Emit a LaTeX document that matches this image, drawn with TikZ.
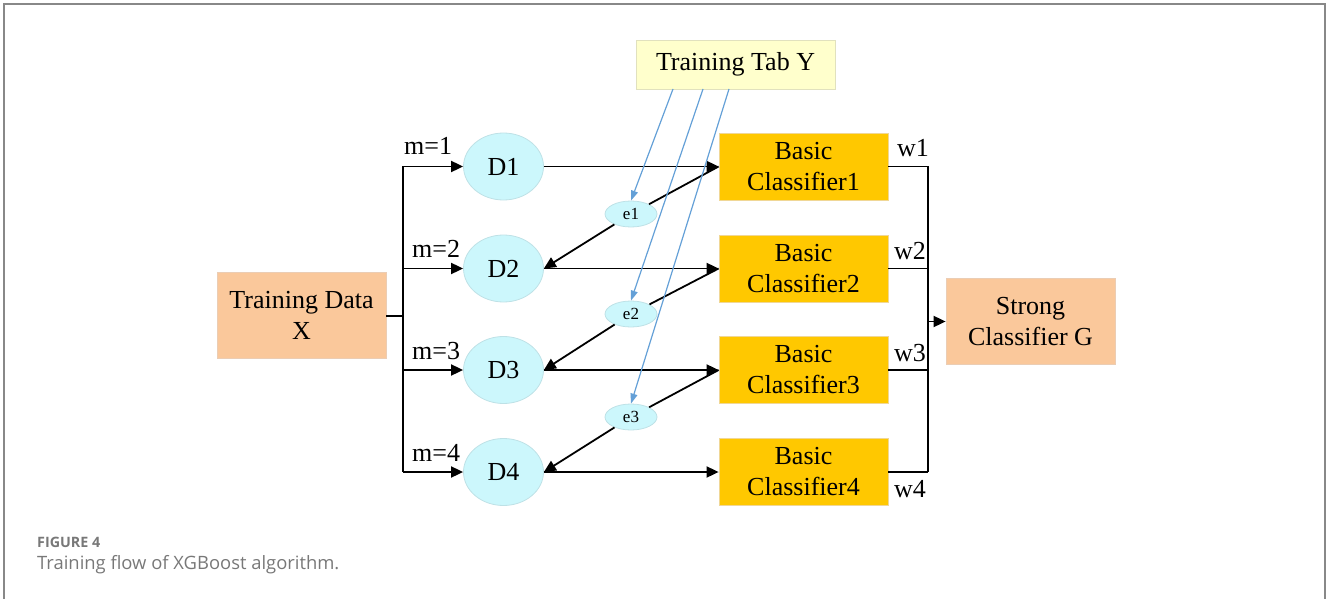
\documentclass[tikz,border=0pt]{standalone}
\usepackage{fontspec}
\setmainfont{Liberation Serif}
\newfontfamily\capfont{Open Sans}
\usetikzlibrary{arrows.meta,shapes.geometric}
\definecolor{peach}{RGB}{250,200,155}
\definecolor{peachline}{RGB}{235,205,180}
\definecolor{gold}{RGB}{255,200,0}
\definecolor{goldline}{RGB}{240,215,150}
\definecolor{cyanfill}{RGB}{204,247,252}
\definecolor{cyanline}{RGB}{190,225,230}
\definecolor{tabfill}{RGB}{255,255,204}
\definecolor{tabline}{RGB}{225,225,190}
\definecolor{blueline}{RGB}{100,160,215}
\definecolor{frame}{RGB}{136,136,136}
\definecolor{capgray}{RGB}{120,120,120}
\tikzset{
  bigtext/.style={font=\fontsize{26}{31}\selectfont},
  peachbox/.style={rectangle, fill=peach, draw=peachline, line width=0.8pt, minimum width=169pt, minimum height=86pt, align=center, bigtext, inner sep=0pt},
  classbox/.style={rectangle, fill=gold, draw=goldline, line width=0.8pt, minimum width=169pt, minimum height=67pt, align=center, bigtext, inner sep=0pt},
  dnode/.style={ellipse, fill=cyanfill, draw=cyanline, line width=0.8pt, minimum width=80pt, minimum height=67pt, inner sep=0pt, bigtext},
  enode/.style={ellipse, fill=cyanfill, draw=cyanline, line width=0.8pt, minimum width=52pt, minimum height=26pt, inner sep=0pt, font=\fontsize{17}{20}\selectfont},
  tabbox/.style={rectangle, fill=tabfill, draw=tabline, line width=0.8pt, minimum width=199pt, minimum height=49pt, bigtext, inner sep=0pt},
  conn/.style={line width=1.8pt, black},
  arr/.style={conn, -{Triangle[length=12pt,width=11pt]}},
  barr/.style={line width=1.2pt, blueline, -{Triangle[length=10pt,width=7pt]}},
  lbl/.style={bigtext, inner sep=0pt, anchor=base west},
}
\begin{document}
\begin{tikzpicture}[x=1pt,y=-1pt]
\useasboundingbox (0,0) rectangle (1328,599);
% frame
\draw[frame, line width=1.5pt] (4,599) -- (4,4) -- (1325,4) -- (1325,599);

% nodes
\node[peachbox] (X) at (301.5,315.5) {Training Data\\X};
\node[tabbox] (Y) at (735.5,64.5) {Training Tab Y};
\node[dnode] (D1) at (503.5,166.5) {D1};
\node[dnode] (D2) at (503.5,268.5) {D2};
\node[dnode] (D3) at (503.5,370) {D3};
\node[dnode] (D4) at (503.5,472) {D4};
\node[classbox] (C1) at (803.5,166.5) {Basic\\Classifier1};
\node[classbox] (C2) at (803.5,268.5) {Basic\\Classifier2};
\node[classbox] (C3) at (803.5,370) {Basic\\Classifier3};
\node[classbox] (C4) at (803.5,472) {Basic\\Classifier4};
\node[enode] (e1) at (631,214) {e1};
\node[enode] (e2) at (631,314) {e2};
\node[enode] (e3) at (631,417) {e3};
\node[peachbox] (G) at (1030.5,321.5) {Strong\\Classifier G};

% left trunk
\coordinate (tX) at (403,316);
\coordinate (b1) at (403,166.5);
\coordinate (b2) at (403,268.5);
\coordinate (b3) at (403,370);
\coordinate (b4) at (403,472);
\draw[conn] (X.east |- tX) -- (tX);
\draw[conn] (b1) -- (b4);
\draw[arr] (b1) -- (D1);
\draw[arr] (b2) -- (D2);
\draw[arr] (b3) -- (D3);
\draw[arr] (b4) -- (D4);

% D -> classifiers
\draw[arr] (D1) -- (C1);
\draw[arr] (D2) -- (C2);
\draw[arr] (D3) -- (C3);
\draw[arr] (D4) -- (C4);

% feedback through e nodes
\draw[conn] (C1.west) -- (e1);
\draw[arr] (e1) -- (D2.east);
\draw[conn] (C2.west) -- (e2);
\draw[arr] (e2) -- (D3.east);
\draw[conn] (C3.west) -- (e3);
\draw[arr] (e3) -- (D4.east);

% blue lines from Training Tab Y
\coordinate (y1) at (673,89);
\coordinate (y2) at (703,89);
\coordinate (y3) at (729,89);
\draw[barr] (y1) -- (e1.north);
\draw[barr] (y2) -- (e2.north);
\draw[barr] (y3) -- (e3.north);

% right collector
\coordinate (r1) at (928,166.5);
\coordinate (r2) at (928,268.5);
\coordinate (r3) at (928,370);
\coordinate (r4) at (928,472);
\coordinate (rG) at (928,321.5);
\draw[conn] (C1.east) -- (r1);
\draw[conn] (C2.east) -- (r2);
\draw[conn] (C3.east) -- (r3);
\draw[conn] (C4.east) -- (r4);
\draw[conn] (r1) -- (r4);
\draw[arr] (rG) -- (G);

% labels
\node[lbl] (m1) at (404,155) {m=1};
\node[lbl] (m2) at (412,257) {m=2};
\node[lbl] (m3) at (412,359) {m=3};
\node[lbl] (m4) at (412,461) {m=4};
\node[lbl] (w1) at (897,157) {w1};
\node[lbl] (w2) at (894,259) {w2};
\node[lbl] (w3) at (894,361) {w3};
\node[lbl] (w4) at (894,497) {w4};

% caption
\node[anchor=base west, inner sep=0pt, text=capgray, font=\capfont\fontsize{14.3}{18}\selectfont\bfseries] (cap1) at (37,547) {FIGURE 4};
\node[anchor=base west, inner sep=0pt, text=capgray, font=\capfont\fontsize{18.4}{22}\selectfont] (cap2) at (37,569) {Training flow of XGBoost algorithm.};
\end{tikzpicture}
\end{document}
